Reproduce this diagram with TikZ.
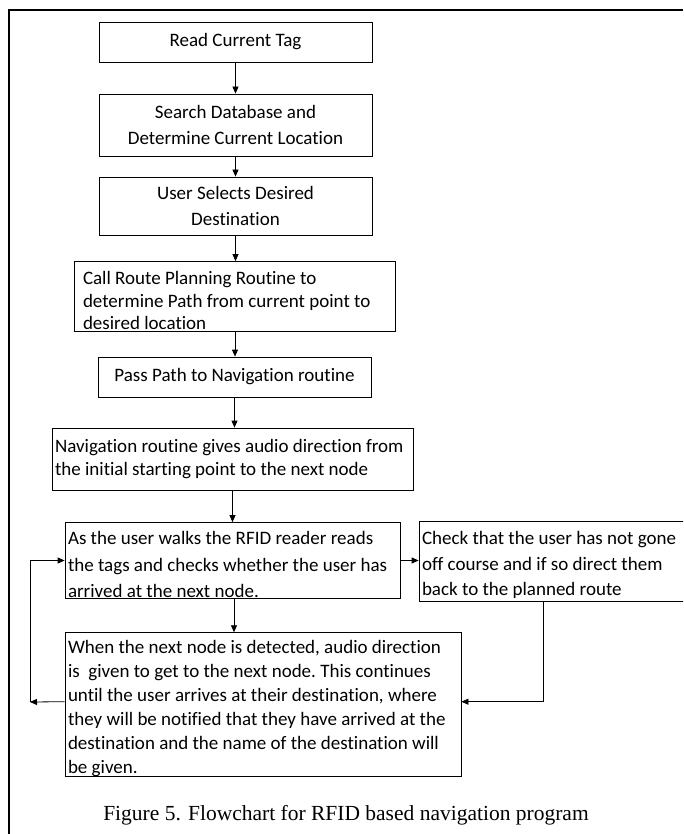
\documentclass[tikz,border=0pt]{standalone}
\usepackage{fontspec}
\setmainfont{Liberation Serif}
\newfontfamily\boxfont{Carlito}[Ligatures=NoCommon]
\usetikzlibrary{arrows.meta}

% left-set block of lines, no re-wrapping, optionally lowered
\newcommand\boxlines[2][0pt]{\spaceskip=0pt\xspaceskip=0pt\frenchspacing
  \raisebox{-#1}[\dimexpr\height-15pt][\dimexpr\depth-15pt]{%
  \begin{tabular}{@{}l@{}}#2\end{tabular}}}

\tikzset{
  stepbox/.style={draw, line width=0.8pt, inner xsep=3pt, inner ysep=3pt,
    font=\boxfont\fontsize{19}{23.4}\selectfont},
  leading/.style={font=\boxfont\fontsize{19}{#1}\selectfont},
  ctrbox/.style={stepbox, align=center, minimum width=273pt, leading=26},
  txtbox/.style={stepbox, align=left},
  flow/.style={-{Triangle[length=7pt,width=6pt]}, line width=0.8pt}
}

\begin{document}
\begin{tikzpicture}[x=1pt, y=-1pt]
\useasboundingbox (0,0) rectangle (683,834);
\clip (0,0) rectangle (683,834);

% outer frame
\draw[line width=2pt] (9,834) -- (9,10) -- (683,10);

% main column
\node[ctrbox, minimum height=40pt] (read) at (235.5,42) {Read Current Tag};
\node[ctrbox, minimum height=62pt] (search) at (235.5,125)
    {Search Database and\\Determine Current Location};
\node[ctrbox, minimum height=58pt] (select) at (235.5,206)
    {User Selects Desired\\Destination};
\node[txtbox, leading=22.5, inner xsep=8.5pt, text width=304pt, minimum height=70pt] (route) at (235,296.5)
    {\boxlines[6pt]{Call Route Planning Routine to\\determine Path from current point to\\desired location}};
\node[ctrbox, minimum height=40pt] (pass) at (234.5,377)
    {Pass Path to Navigation routine};
\node[txtbox, leading=23, text width=355pt, minimum height=62pt] (navi) at (232.5,459)
    {\boxlines{Navigation routine gives audio direction from\\the initial starting point to the next node}};
\node[txtbox, leading=26.5, text width=329pt, minimum height=76pt] (walk) at (232.5,560.5)
    {\boxlines[5.5pt]{As the user walks the RFID reader reads\\the tags and checks whether the user has\\arrived at the next node.}};
\node[txtbox, leading=25.5, text width=284pt, minimum height=80pt] (check) at (564,561)
    {\boxlines[4pt]{Check that the user has not gone\\off course and if so direct them\\back to the planned route}};
\node[txtbox, leading=24, text width=390pt, minimum height=144pt] (detect) at (263,704.7)
    {\boxlines[4pt]{When the next node is detected, audio direction\\is\ \ given to get to the next node. This continues\\until the user arrives at their destination, where\\they will be notified that they have arrived at the\\destination and the name of the destination will\\be given.}};

% caption
\node[font=\fontsize{21.5}{26}\selectfont] (caption) at (346,815)
    {Figure 5. Flowchart for RFID based navigation program};

% connectors
\draw[flow] (read) -- (search);
\draw[flow] (search) -- (select);
\draw[flow] (select.south) -- (select.south |- route.north);
\draw[flow] (route.south) -- (route.south |- pass.north);
\draw[flow] (pass.south) -- (pass.south |- navi.north);
\draw[flow] (navi) -- (walk);
\draw[flow] ([xshift=1.5pt]walk.south) -- ([xshift=1.5pt]walk.south |- detect.north);
\draw[flow] (walk.east) -- (walk.east -| check.west);
\draw[flow] ([xshift=125pt]check.south west) |- ([yshift=3pt]detect.east);

% loop back
\coordinate (loopc) at (30,702);
\draw[flow] ([yshift=3pt]detect.west) -- (loopc);
\draw[flow] (loopc) |- (walk.west);

\end{tikzpicture}
\end{document}
